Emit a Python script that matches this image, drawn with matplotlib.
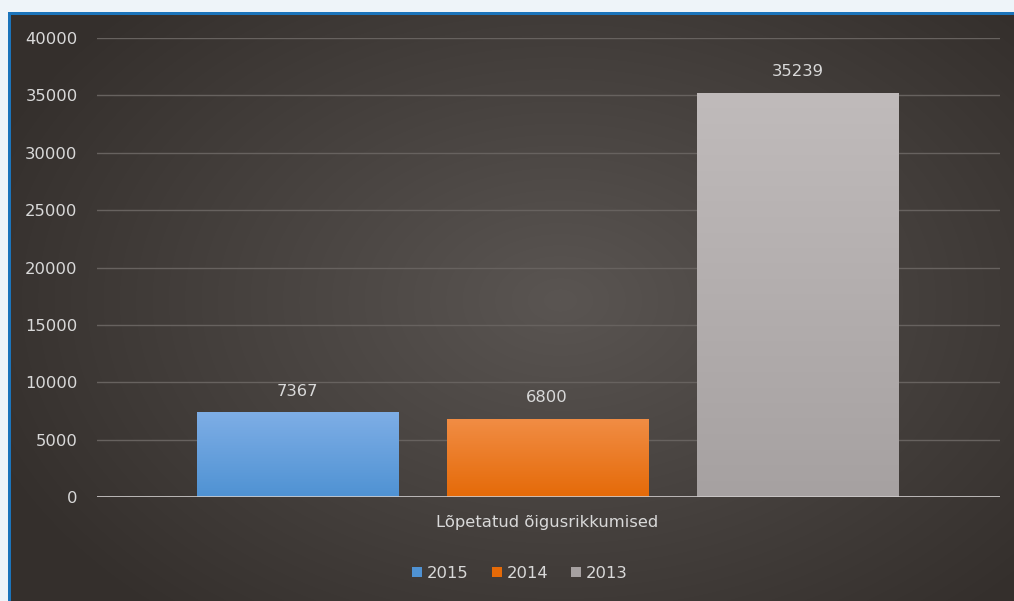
import numpy as np
import matplotlib
matplotlib.use("Agg")
from matplotlib import pyplot as plt
from matplotlib.patches import Rectangle

# data
category = "Lõpetatud õigusrikkumised"
years = ["2015", "2014", "2013"]
values = [7367, 6800, 35239]
offsets = [-1, 0, 1]
top_colors = ["#7eaee6", "#f18d45", "#c0bbbb"]
bottom_colors = ["#4f92d3", "#e56a08", "#a6a1a1"]

W, H = 1014, 601
fig = plt.figure(figsize=(W / 100, H / 100), dpi=100)
fig.patch.set_facecolor("#eef4f9")

# dark panel with radial gradient
bg = fig.add_axes([0, 0, 1, 1])
bg.set_xlim(0, W)
bg.set_ylim(H, 0)
bg.axis("off")
yy, xx = np.mgrid[0:H, 0:W]
r = np.sqrt(((xx - 560) / 620.0) ** 2 + ((yy - 300) / 420.0) ** 2)
r = np.clip(r, 0, 1)
c_in = np.array([0x5a, 0x55, 0x52]) / 255
c_out = np.array([0x34, 0x2f, 0x2c]) / 255
img = c_in[None, None, :] * (1 - r[..., None]) + c_out[None, None, :] * r[..., None]
bg.add_patch(Rectangle((8, 12), W, H, facecolor="#1b74bb", edgecolor="none"))
im = bg.imshow(img, extent=(0, W, H, 0), zorder=2)
clip = Rectangle((11, 15), W, H, transform=bg.transData)
im.set_clip_path(clip)

ax = fig.add_axes([97 / W, 1 - 497 / H, (1000 - 97) / W, (497 - 38) / H])
ax.patch.set_alpha(0)
ax.set_yticks(range(0, 40001, 5000))
ax.yaxis.grid(True, color="#67625f", linewidth=1)
ax.set_axisbelow(True)
for s in ax.spines.values():
    s.set_visible(False)
ax.axhline(0, color="#cfcccc", linewidth=1.2, zorder=3)
ax.tick_params(axis="y", length=0, pad=14, labelsize=11.8, labelcolor="#d9d9d9")
ax.set_xticks([0])
ax.set_xticklabels([category])
ax.tick_params(axis="x", length=0, pad=13, labelsize=11.8, labelcolor="#d9d9d9")

grad = np.linspace(0, 1, 256)[:, None]
bars = []
for off, v, yr, ct, cb in zip(offsets, values, years, top_colors, bottom_colors):
    b = ax.bar(off, v, width=0.804, color=cb, label=yr, zorder=2)[0]
    bars.append(b)
    t = matplotlib.colors.to_rgb(ct)
    bo = matplotlib.colors.to_rgb(cb)
    g = np.array(t)[None, None, :] * (1 - grad[..., None]) + np.array(bo)[None, None, :] * grad[..., None]
    gi = ax.imshow(g, extent=(off - 0.402, off + 0.402, 0, v), aspect="auto", zorder=2.5)
    gi.set_clip_path(b)
    ax.text(off, v + 1200, str(v), ha="center", va="bottom", fontsize=11.8, color="#d9d9d9")

ax.set_xlim(-1.8, 1.81)
ax.set_ylim(0, 40000)

leg = fig.legend(handles=bars, labels=years, loc="center", bbox_to_anchor=(520 / W, 1 - 573 / H),
                 ncol=3, frameon=False, fontsize=11.8, handlelength=0.6, handleheight=0.6,
                 handletextpad=0.3, columnspacing=1.4)
for t in leg.get_texts():
    t.set_color("#d9d9d9")

fig.savefig("out.png", dpi=100, facecolor=fig.get_facecolor())
